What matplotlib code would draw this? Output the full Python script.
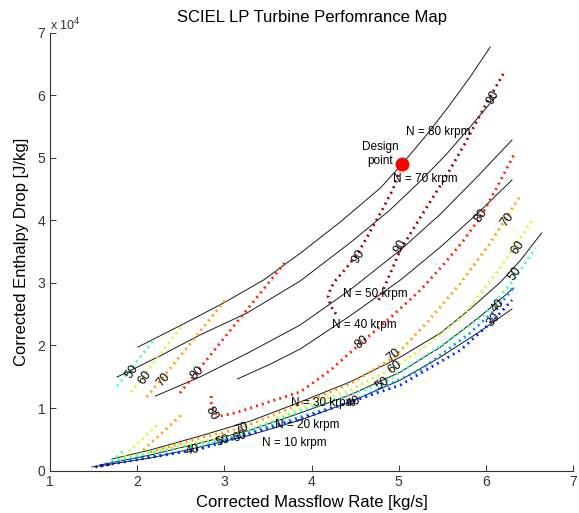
import matplotlib
matplotlib.use('Agg')
import matplotlib.pyplot as plt

plt.rcParams['font.family'] = ['Liberation Sans', 'DejaVu Sans']

# ---- speed lines: corrected massflow [kg/s] vs corrected enthalpy drop [J/kg]
n80_x = [2.01, 2.53, 2.99, 3.45, 3.89, 4.33, 4.79, 5.04, 5.31, 5.56, 5.82, 6.05]
n80_y = [19760, 23440, 26800, 30480, 34960, 39760, 45200, 49040, 53520, 58000, 62960, 67760]
n70_x = [1.77, 2.26, 2.72, 3.26, 3.87, 4.44, 4.90, 5.25, 5.54, 5.82, 6.11]
n70_y = [14960, 18320, 21680, 25200, 30320, 36400, 41680, 46320, 50480, 54960, 59760]
n50_x = [2.21, 2.72, 3.27, 3.87, 4.44, 5.02, 5.48, 5.91, 6.30]
n50_y = [11920, 14960, 18800, 23280, 28880, 35280, 41040, 47120, 52880]
n40_x = [3.15, 3.53, 3.87, 4.44, 5.02, 5.48, 5.91, 6.30]
n40_y = [14640, 17040, 19440, 24720, 30480, 35760, 41200, 46480]
n30_x = [1.71, 2.15, 2.72, 3.30, 3.87, 4.44, 5.02, 5.48, 5.82, 6.17, 6.40, 6.64]
n30_y = [1840, 3280, 5520, 7920, 10960, 14160, 18160, 22000, 25840, 30160, 33680, 38000]
n20_x = [1.57, 2.15, 2.72, 3.30, 3.87, 4.44, 5.02, 5.48, 5.94, 6.32]
n20_y = [880, 2480, 4400, 6480, 9200, 12080, 15760, 19760, 24720, 29200]
n10_x = [1.48, 2.15, 2.72, 3.30, 3.87, 4.44, 5.02, 5.48, 5.94, 6.30]
n10_y = [560, 2000, 3760, 5680, 8080, 10960, 14480, 18160, 22320, 25840]

speed_names = ['N = 80 krpm', 'N = 70 krpm', 'N = 50 krpm', 'N = 40 krpm',
               'N = 30 krpm', 'N = 20 krpm', 'N = 10 krpm']
speed_label_x = [5.08, 4.94, 4.36, 4.24, 3.76, 3.58, 3.43]
speed_label_y = [54160, 46640, 28240, 23280, 10800, 7280, 4480]

# ---- efficiency contours [%]
eff90a_x = [4.28, 4.22, 4.19, 4.22, 4.28, 4.40, 4.54, 4.67, 4.81, 4.93, 5.03]
eff90a_y = [25040, 26320, 27760, 29200, 30480, 32400, 34960, 38160, 41680, 44880, 48400]
eff90b_x = [4.77, 4.88, 5.02, 5.16, 5.28, 5.54, 5.77, 5.99, 6.20]
eff90b_y = [27280, 30800, 35280, 38480, 41200, 46960, 52560, 58320, 63440]
eff80_x = [2.85, 2.85, 2.88, 2.95, 3.12, 3.30, 3.58, 3.87, 4.22, 4.58, 4.90, 5.25,
           5.51, 5.73, 5.94, 6.13, 6.32]
eff80_y = [11920, 10640, 9360, 8720, 9200, 10000, 11280, 12560, 16080, 20560, 24400,
           28880, 32880, 36560, 40560, 45360, 50480]
eff80u_x = [2.49, 3.09, 3.70]
eff80u_y = [12400, 22800, 33360]
eff70u_x = [2.11, 2.55, 3.01]
eff70u_y = [11760, 19280, 27280]
eff60u_x = [1.93, 2.23, 2.53]
eff60u_y = [12560, 18000, 23440]
eff50u_x = [1.77, 2.21]
eff50u_y = [13520, 21200]
eff70l_x = [2.07, 2.53]
eff70l_y = [3280, 9200]
eff60l_x = [1.80, 2.23]
eff60l_y = [1680, 7280]
eff50l_x = [1.71, 1.84]
eff50l_y = [1520, 3120]
eff70b_x = [2.15, 2.72, 3.20, 3.87, 4.44, 4.94, 5.33, 5.71, 6.05, 6.40]
eff70b_y = [2960, 5200, 6800, 10640, 13840, 18000, 23760, 30000, 36400, 44080]
eff60b_x = [1.84, 2.49, 3.18, 3.87, 4.44, 4.96, 5.36, 5.74, 6.17, 6.55]
eff60b_y = [2000, 4080, 5680, 10000, 12880, 16560, 20400, 24720, 32560, 40400]
eff50b_x = [1.71, 2.38, 2.99, 3.87, 4.81, 5.48, 5.97, 6.34, 6.57]
eff50b_y = [1520, 3440, 4880, 9520, 13840, 19920, 24720, 30800, 35600]
eff40b_x = [1.63, 2.64, 3.53, 4.48, 5.25, 5.82, 6.14, 6.32]
eff40b_y = [1040, 3280, 7120, 11120, 16080, 22000, 26160, 29360]
eff30b_x = [1.57, 2.72, 3.87, 5.02, 5.71, 6.09, 6.30]
eff30b_y = [720, 3440, 8240, 13680, 19280, 24080, 27280]
eff20b_x = [1.52, 1.71]
eff20b_y = [560, 1040]

clabel_text = ['50', '60', '70', '80', '80', '90', '90', '90', '80', '80', '70', '60',
               '50', '40', '30', '70', '60', '50', '40', '40', '50', '60', '70']
clabel_x = [1.94, 2.09, 2.30, 2.69, 2.85, 4.54, 5.02, 6.08, 4.58, 5.94, 6.25, 6.37,
            6.34, 6.14, 6.09, 4.94, 4.96, 4.81, 4.48, 2.64, 2.99, 3.18, 3.20]
clabel_y = [15760, 14800, 14480, 15600, 9200, 34320, 35920, 59760, 20560, 40720, 40080,
            35600, 31440, 26320, 24080, 18480, 16560, 13840, 10960, 3280, 4720, 5360, 6640]
clabel_rot = [55, 55, 50, 45, -60, 58, 60, 62, 40, 55, 52, 55, 55, 50, 50, 40, 38, 35,
              25, 15, 20, 20, 22]

design_x = 5.04
design_y = 49040

colors = {20: '#0000a8', 30: '#0028ff', 40: '#0096ff', 50: '#3cffc3',
          60: '#c8ff30', 70: '#ffa000', 80: '#ff1e00', 90: '#9b0000'}

fig = plt.figure(figsize=(5.79, 5.13), dpi=100)
ax = fig.add_axes([0.0864, 0.0828, 0.9033, 0.853])

speed_lines = [(n80_x, n80_y), (n70_x, n70_y), (n50_x, n50_y), (n40_x, n40_y),
               (n30_x, n30_y), (n20_x, n20_y), (n10_x, n10_y)]
for xs, ys in speed_lines:
    ax.plot(xs, ys, color='#1a1a1a', lw=0.7)

contours = [(eff90a_x, eff90a_y, 90), (eff90b_x, eff90b_y, 90), (eff80_x, eff80_y, 80),
            (eff80u_x, eff80u_y, 80), (eff70u_x, eff70u_y, 70), (eff60u_x, eff60u_y, 60),
            (eff50u_x, eff50u_y, 50), (eff70l_x, eff70l_y, 70), (eff60l_x, eff60l_y, 60),
            (eff50l_x, eff50l_y, 50), (eff70b_x, eff70b_y, 70), (eff60b_x, eff60b_y, 60),
            (eff50b_x, eff50b_y, 50), (eff40b_x, eff40b_y, 40), (eff30b_x, eff30b_y, 30),
            (eff20b_x, eff20b_y, 20)]
for xs, ys, lev in contours:
    ax.plot(xs, ys, color=colors[lev], lw=2.0, linestyle=(0, (0.7, 1.5)),
            dash_capstyle='butt')

for t, x, y, r in zip(clabel_text, clabel_x, clabel_y, clabel_rot):
    ax.text(x, y, t, rotation=r, fontsize=9, ha='center', va='center',
            rotation_mode='anchor')

for t, x, y in zip(speed_names, speed_label_x, speed_label_y):
    ax.text(x, y, t, fontsize=8.5, ha='left', va='center')

ax.plot(design_x, design_y, 'o', color='red', ms=9)
ax.text(4.79, 50640, 'Design\npoint', fontsize=8.5, ha='center', va='center',
        linespacing=1.15)

ax.set_xlim(1, 7)
ax.set_ylim(0, 70000)
ax.set_xticks(range(1, 8))
ax.set_yticks(range(0, 70001, 10000))
ax.set_yticklabels([str(i) for i in range(8)])
ax.text(0, 1.0, r'x 10$^{4}$', transform=ax.transAxes, fontsize=9,
        ha='left', va='bottom', color='#333333')
ax.tick_params(direction='in', length=4, labelsize=10, colors='#333333',
               width=0.7)
for s in ['top', 'right']:
    ax.spines[s].set_visible(False)
for s in ['left', 'bottom']:
    ax.spines[s].set_color('#333333')
    ax.spines[s].set_linewidth(0.8)

ax.set_title('SCIEL LP Turbine Perfomrance Map', fontsize=12, pad=8)
ax.set_xlabel('Corrected Massflow Rate [kg/s]', fontsize=12, labelpad=4)
ax.set_ylabel('Corrected Enthalpy Drop [J/kg]', fontsize=12, labelpad=6)

fig.savefig('out.png', dpi=100)
